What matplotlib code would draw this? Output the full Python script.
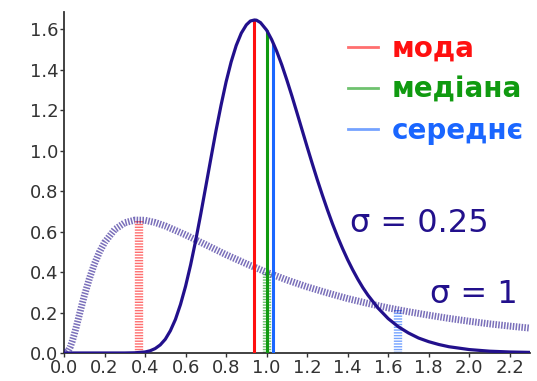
import matplotlib
matplotlib.use("Agg")
import matplotlib.pyplot as plt
from matplotlib.lines import Line2D

# ---- data ----
x_wide = [0.0, 0.01, 0.02, 0.03, 0.04, 0.05, 0.06, 0.075, 0.09, 0.1, 0.125, 0.15, 0.175, 0.2,
          0.25, 0.3, 0.35, 0.4, 0.45, 0.5, 0.6, 0.7, 0.8, 0.9, 1.0, 1.1, 1.2, 1.3, 1.4,
          1.5, 1.6, 1.7, 1.8, 1.9, 2.0, 2.1, 2.2, 2.3]
y_wide = [0.0, 0.001, 0.009, 0.028, 0.056, 0.090, 0.127, 0.186, 0.244, 0.282, 0.367, 0.440, 0.499, 0.546,
          0.610, 0.644, 0.657, 0.656, 0.645, 0.628, 0.584, 0.535, 0.486, 0.441, 0.399, 0.361, 0.327, 0.297, 0.269,
          0.245, 0.223, 0.204, 0.187, 0.171, 0.157, 0.144, 0.133, 0.123]

x_narrow = [0.0, 0.2, 0.3, 0.35, 0.4, 0.425, 0.45, 0.475, 0.5, 0.525, 0.55, 0.575, 0.6, 0.625, 0.65,
            0.675, 0.7, 0.725, 0.75, 0.775, 0.8, 0.825, 0.85, 0.875, 0.9, 0.92, 0.94, 0.95, 0.97, 1.0,
            1.025, 1.05, 1.075, 1.1, 1.125, 1.15, 1.175, 1.2, 1.225, 1.25, 1.275, 1.3, 1.325, 1.35, 1.375,
            1.4, 1.425, 1.45, 1.475, 1.5, 1.55, 1.6, 1.65, 1.7, 1.75, 1.8, 1.85, 1.9, 2.0, 2.1,
            2.2, 2.3]
y_narrow = [0.0, 0.0, 0.0, 0.001, 0.005, 0.011, 0.022, 0.040, 0.068, 0.110, 0.166, 0.240, 0.330, 0.436, 0.556,
            0.687, 0.824, 0.962, 1.098, 1.224, 1.340, 1.439, 1.520, 1.581, 1.622, 1.641, 1.646, 1.645, 1.633, 1.596,
            1.549, 1.491, 1.424, 1.349, 1.270, 1.187, 1.103, 1.019, 0.937, 0.857, 0.781, 0.708, 0.639, 0.575, 0.516,
            0.461, 0.411, 0.365, 0.323, 0.286, 0.222, 0.170, 0.130, 0.099, 0.074, 0.056, 0.042, 0.031, 0.017, 0.009,
            0.005, 0.003]

# mode, median, mean positions and heights
stats_labels = ["мода", "медіана", "середнє"]
stats_colors = ["#ff1010", "#109a10", "#1a66ff"]
narrow_x = [0.939, 1.0, 1.032]
narrow_h = [1.646, 1.596, 1.534]
wide_x = [0.368, 1.0, 1.649]
wide_h = [0.657, 0.399, 0.214]

sigma_labels = ["σ = 0.25", "σ = 1"]

xticks = [0.0, 0.2, 0.4, 0.6, 0.8, 1.0, 1.2, 1.4, 1.6, 1.8, 2.0, 2.2]
xticklabels = ["0.0", "0.2", "0.4", "0.6", "0.8", "1.0", "1.2", "1.4", "1.6", "1.8", "2.0", "2.2"]
yticks = [0.0, 0.2, 0.4, 0.6, 0.8, 1.0, 1.2, 1.4, 1.6]
yticklabels = ["0.0", "0.2", "0.4", "0.6", "0.8", "1.0", "1.2", "1.4", "1.6"]

# ---- drawing ----
plt.rcParams['font.family'] = ['DejaVu Sans']
plt.rcParams['lines.scale_dashes'] = False
curve_color = "#22108c"

fig = plt.figure(figsize=(5.37, 3.81), dpi=100)
ax = fig.add_axes([64/537, 28/381, (530-64)/537, (353-11.7)/381])
ax.set_xlim(0, 2.3)
ax.set_ylim(0, 1.687)

# wide (sigma = 1) striped vertical lines
for xv, hv, c in zip(wide_x, wide_h, stats_colors):
    ax.plot([xv, xv], [0, hv], color=c, lw=6, alpha=0.6, dashes=(1.0, 1.0),
            solid_capstyle='butt', dash_capstyle='butt', zorder=2)

# wide curve, striped
ax.plot(x_wide, y_wide, color=curve_color, lw=5, alpha=0.6, dashes=(1.1, 1.0),
        dash_capstyle='butt', zorder=3)

# narrow vertical lines
for xv, hv, c in zip(narrow_x, narrow_h, stats_colors):
    ax.plot([xv, xv], [0, hv], color=c, lw=2.2, solid_capstyle='butt', zorder=4)

# narrow curve
ax.plot(x_narrow, y_narrow, color=curve_color, lw=2.3, zorder=5, solid_joinstyle='round')

# text labels
ax.text(1.41, 0.60, sigma_labels[0], fontsize=23, color=curve_color, va='baseline', ha='left')
ax.text(1.806, 0.249, sigma_labels[1], fontsize=23, color=curve_color, va='baseline', ha='left')

# legend
handles = [Line2D([], [], color=c, lw=2, alpha=0.6) for c in stats_colors]
leg = fig.legend(handles, stats_labels, loc='upper left', bbox_to_anchor=(348/537, 1 - 35/381),
                 bbox_transform=fig.transFigure, frameon=False, borderpad=0, borderaxespad=0,
                 handlelength=1.08, handletextpad=0.5, labelspacing=0.46,
                 prop={'size': 20, 'weight': 'bold'})
for t, c in zip(leg.get_texts(), stats_colors):
    t.set_color(c)

# axes styling
for s in ['top', 'right']:
    ax.spines[s].set_visible(False)
for s in ['left', 'bottom']:
    ax.spines[s].set_color('#333333')
    ax.spines[s].set_linewidth(1.3)
ax.set_xticks(xticks)
ax.set_xticklabels(xticklabels)
ax.set_yticks(yticks)
ax.set_yticklabels(yticklabels)
ax.tick_params(direction='out', length=3, width=1, colors='#333333', labelsize=13, pad=1)

fig.savefig("out.png", dpi=100)
